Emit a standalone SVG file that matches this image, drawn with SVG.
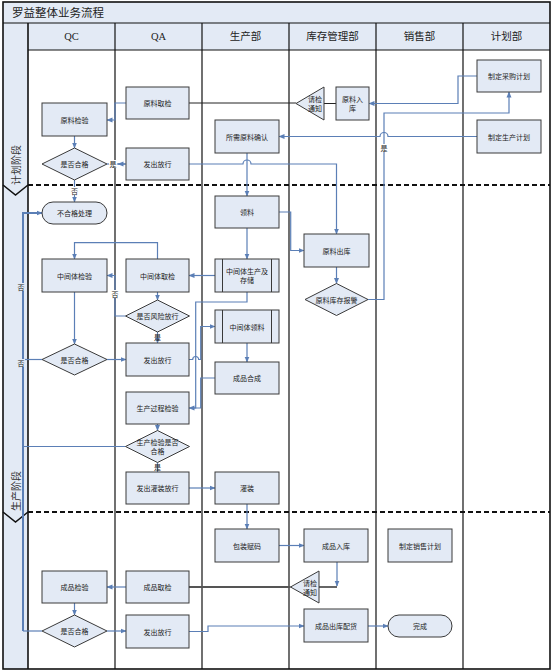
<svg xmlns="http://www.w3.org/2000/svg" width="554" height="672" viewBox="0 0 554 672">
<style>
.bg{fill:#ffffff}
.hdr{fill:#e3eaf5;stroke:none}
.lane{stroke:#111;stroke-width:1.2;fill:none}
.dash{stroke:#111;stroke-width:2;stroke-dasharray:5 3;fill:none}
.box{fill:#e3eaf5;stroke:#3a3a3a;stroke-width:1}
.inner{stroke:#3a3a3a;stroke-width:1;fill:none}
.c{stroke:#5b7fb6;stroke-width:1.2;fill:none}
.ct{stroke:#5b7fb6;stroke-width:2;fill:none}
.k{stroke:#222;stroke-width:1;fill:none}
.kg{stroke:#555;stroke-width:1.8;fill:none}
.lbl{font-family:"Noto Sans CJK SC","Liberation Sans",sans-serif;font-size:7px;fill:#222;text-anchor:middle;dominant-baseline:central}
.ht{font-family:"Liberation Serif","Noto Sans CJK SC",serif;font-size:10.5px;fill:#222;text-anchor:middle;dominant-baseline:central}
.tt{font-family:"Noto Sans CJK SC",sans-serif;font-size:11.5px;fill:#222}
.pt{font-family:"Noto Sans CJK SC",sans-serif;font-size:10px;fill:#333;text-anchor:middle;dominant-baseline:central}
.lb{fill:#ffffff;stroke:none}
</style>
<defs>
<marker id="ar" markerWidth="6" markerHeight="6" refX="5.5" refY="3" orient="auto" markerUnits="userSpaceOnUse">
<path d="M0,0.5 L6,3 L0,5.5 z" fill="#5b7fb6"/>
</marker>
</defs>
<rect class="bg" x="0" y="0" width="554" height="672"/>
<g id="frame">
<rect class="hdr" x="3" y="2" width="547" height="21"/>
<text class="tt" x="12" y="17">罗益整体业务流程</text>
<rect class="hdr" x="3" y="23" width="547" height="27"/>
<rect class="hdr" x="3" y="23" width="25" height="646"/>
<line class="lane" x1="3" y1="23" x2="550" y2="23"/>
<line class="lane" x1="28" y1="50" x2="550" y2="50"/>
<line class="lane" x1="28" y1="23" x2="28" y2="669" style="stroke-width:1.6"/>
<line class="lane" x1="115" y1="23" x2="115" y2="669"/>
<line class="lane" x1="202" y1="23" x2="202" y2="669"/>
<line class="lane" x1="289" y1="23" x2="289" y2="669"/>
<line class="lane" x1="376" y1="23" x2="376" y2="669"/>
<line class="lane" x1="463" y1="23" x2="463" y2="669"/>
<line class="dash" x1="28" y1="185" x2="550" y2="185"/>
<line class="dash" x1="28" y1="512" x2="550" y2="512"/>
<polyline points="3,185 15.5,195 28,185" fill="none" stroke="#111" stroke-width="1.6"/>
<polyline points="3,512 15.5,522 28,512" fill="none" stroke="#111" stroke-width="1.6"/>
<text class="pt" transform="translate(15.5,165) rotate(-90)">计划阶段</text>
<text class="pt" transform="translate(15.5,491) rotate(-90)">生产阶段</text>
<text class="ht" x="71.5" y="36.5">QC</text>
<text class="ht" x="158.5" y="36.5">QA</text>
<text class="ht" x="245.5" y="36.5">生产部</text>
<text class="ht" x="332.5" y="36.5">库存管理部</text>
<text class="ht" x="419.5" y="36.5">销售部</text>
<text class="ht" x="506.5" y="36.5">计划部</text>
<rect x="3" y="2" width="547" height="667" fill="none" stroke="#111" stroke-width="1.6"/>
</g>
<g id="connectors">
<path class="k" d="M189,103 H296"/>
<path class="k" d="M324,103.5 H336"/>
<path class="c" d="M126,103 H115 V120 H107" marker-end="url(#ar)"/>
<path class="c" d="M74.5,136 V148" marker-end="url(#ar)"/>
<path class="c" d="M107,164 H126"/>
<path class="c" d="M125,164 H118" marker-end="url(#ar)"/>
<path class="c" d="M189,164 H243 a4,4 0 0 1 8,0 H336.5 V234" marker-end="url(#ar)"/>
<path class="c" d="M247,153 V196" marker-end="url(#ar)"/>
<path class="c" d="M477,136.5 H388 a4,4 0 0 0 -8,0 H279" marker-end="url(#ar)"/>
<path class="c" d="M477,76 H458 V103.5 H369" marker-end="url(#ar)"/>
<path class="c" d="M368,299.5 H384 V113 H509 V92" marker-end="url(#ar)"/>
<path class="c" d="M74.5,180 V202" marker-end="url(#ar)"/>
<path class="c" d="M279,212 H290.7 V250.5 H304" marker-end="url(#ar)"/>
<path class="c" d="M336.5,267 V283.5" marker-end="url(#ar)"/>
<path class="c" d="M247,228 V259" marker-end="url(#ar)"/>
<path class="c" d="M215,275.5 H189" marker-end="url(#ar)"/>
<path class="c" d="M157.5,259 V242.7 H74.5 V259" marker-end="url(#ar)"/>
<path class="c" d="M157.5,292 V300" marker-end="url(#ar)"/>
<path class="c" d="M125.5,316 H115 V275.5 H107" marker-end="url(#ar)"/>
<path class="c" d="M157.5,332 V343" marker-end="url(#ar)"/>
<path class="c" d="M74.5,292 V344" marker-end="url(#ar)"/>
<path class="c" d="M107,359.5 H126" marker-end="url(#ar)"/>
<path class="ct" d="M23,631 V213 H42" marker-end="url(#ar)"/>
<path class="c" d="M42,359.5 H23"/>
<path class="c" d="M125.5,446.5 H23"/>
<path class="c" d="M42,631 H23"/>
<path class="c" d="M247,292 V302 H195.7 V408 H189" marker-end="url(#ar)"/>
<path class="c" d="M189,359.5 H192.7 a3,3 0 0 1 6,0 H200.7 V326.5 H215" marker-end="url(#ar)"/>
<path class="c" d="M215,378 H200.7 V408 H192"/>
<path class="c" d="M247,343 V362" marker-end="url(#ar)"/>
<path class="c" d="M157.5,424 V430.5" marker-end="url(#ar)"/>
<path class="c" d="M157.5,462.5 V472"/>
<path class="c" d="M189,488 H215" marker-end="url(#ar)"/>
<path class="c" d="M247,504 V529" marker-end="url(#ar)"/>
<path class="c" d="M279,545.5 H304" marker-end="url(#ar)"/>
<path class="c" d="M337,562 V586" marker-end="url(#ar)"/>
<path class="kg" d="M189,587 H290.5"/>
<path class="kg" d="M319,587 H337"/>
<path class="c" d="M126,587 H107" marker-end="url(#ar)"/>
<path class="c" d="M74.5,603 V615" marker-end="url(#ar)"/>
<path class="c" d="M107,631 H126" marker-end="url(#ar)"/>
<path class="c" d="M189,631.5 H208 V626 H304" marker-end="url(#ar)"/>
<path class="c" d="M368,626 H388" marker-end="url(#ar)"/>
<rect class="lb" x="109" y="160" width="8" height="8"/>
<text class="lbl" x="113" y="164">是</text>
<rect class="lb" x="70.5" y="187" width="8" height="8"/>
<text class="lbl" x="74.5" y="191">否</text>
<rect class="lb" x="380" y="144" width="8" height="8"/>
<text class="lbl" x="384" y="148">是</text>
<rect class="lb" x="111" y="290" width="8" height="8"/>
<text class="lbl" x="115" y="294">否</text>
<text class="lbl" x="157.5" y="337">是</text>
<text class="lbl" x="157.5" y="467">是</text>
<rect class="lb" x="17" y="283" width="8" height="8" fill="#e3eaf5" style="fill:#e3eaf5"/>
<text class="lbl" x="21" y="287">否</text>
<rect class="lb" x="17" y="359" width="8" height="8" style="fill:#e3eaf5"/>
<text class="lbl" x="21" y="363">否</text>
</g>
<g id="n1"><rect class="box" x="126" y="87" width="63" height="32"/><text class="lbl" x="157.5" y="103">原料取检</text></g>
<g id="n2"><rect class="box" x="42" y="103" width="65" height="33"/><text class="lbl" x="74.5" y="119.5">原料检验</text></g>
<g id="n3"><polygon class="box" points="42,164 74.5,148 107,164 74.5,180"/><text class="lbl" x="74.5" y="164">是否合格</text></g>
<g id="n4"><rect class="box" x="126" y="148" width="63" height="32"/><text class="lbl" x="157.5" y="164">发出放行</text></g>
<g id="n5"><rect class="box" x="215" y="120" width="64" height="33"/><text class="lbl" x="247" y="136.5">所需原料确认</text></g>
<g id="n6"><rect class="box" x="42" y="202" width="65" height="22" rx="11" ry="11"/><text class="lbl" x="74.5" y="213">不合格处理</text></g>
<g id="n7"><rect class="box" x="215" y="196" width="64" height="32"/><text class="lbl" x="247" y="212">领料</text></g>
<g id="n8"><polygon class="box" points="296,103.5 324,87 324,120"/><text class="lbl" x="315" y="99">请检</text><text class="lbl" x="315" y="107.5">通知</text></g>
<g id="n9"><rect class="box" x="336" y="87" width="33" height="33"/><text class="lbl" x="352.5" y="99">原料入</text><text class="lbl" x="352.5" y="108">库</text></g>
<g id="n10"><rect class="box" x="477" y="60" width="64" height="32"/><text class="lbl" x="509" y="76">制定采购计划</text></g>
<g id="n11"><rect class="box" x="477" y="120" width="64" height="33"/><text class="lbl" x="509" y="136.5">制定生产计划</text></g>
<g id="n12"><rect class="box" x="304" y="234" width="65" height="33"/><text class="lbl" x="336.5" y="250.5">原料出库</text></g>
<g id="n13"><polygon class="box" points="305,299.5 336.5,283.5 368,299.5 336.5,315.5"/><text class="lbl" x="336.5" y="299.5">原料库存报警</text></g>
<g id="n14"><rect class="box" x="42" y="259" width="65" height="33"/><text class="lbl" x="74.5" y="275.5">中间体检验</text></g>
<g id="n15"><rect class="box" x="126" y="259" width="63" height="33"/><text class="lbl" x="157.5" y="275.5">中间体取检</text></g>
<g id="n16"><rect class="box" x="215" y="259" width="64" height="33"/><line class="inner" x1="222.5" y1="259" x2="222.5" y2="292"/><line class="inner" x1="271.5" y1="259" x2="271.5" y2="292"/><text class="lbl" x="247" y="271">中间体生产及</text><text class="lbl" x="247" y="280">存储</text></g>
<g id="n17"><polygon class="box" points="125.5,316 157.5,300 189.5,316 157.5,332"/><text class="lbl" x="157.5" y="316">是否风险放行</text></g>
<g id="n18"><polygon class="box" points="42,359.5 74.5,344 107,359.5 74.5,375"/><text class="lbl" x="74.5" y="359.5">是否合格</text></g>
<g id="n19"><rect class="box" x="126" y="343" width="63" height="33"/><text class="lbl" x="157.5" y="359.5">发出放行</text></g>
<g id="n20"><rect class="box" x="215" y="310" width="64" height="33"/><line class="inner" x1="222.5" y1="310" x2="222.5" y2="343"/><line class="inner" x1="271.5" y1="310" x2="271.5" y2="343"/><text class="lbl" x="247" y="326.5">中间体领料</text></g>
<g id="n21"><rect class="box" x="215" y="362" width="64" height="32"/><text class="lbl" x="247" y="378">成品合成</text></g>
<g id="n22"><rect class="box" x="126" y="392" width="63" height="32"/><text class="lbl" x="157.5" y="408">生产过程检验</text></g>
<g id="n23"><polygon class="box" points="125.5,446.5 157.5,430.5 189.5,446.5 157.5,462.5"/><text class="lbl" x="157.5" y="442">生产检验是否</text><text class="lbl" x="157.5" y="450.5">合格</text></g>
<g id="n24"><rect class="box" x="126" y="472" width="63" height="32"/><text class="lbl" x="157.5" y="488">发出灌装放行</text></g>
<g id="n25"><rect class="box" x="215" y="472" width="64" height="32"/><text class="lbl" x="247" y="488">灌装</text></g>
<g id="n26"><rect class="box" x="215" y="529" width="64" height="33"/><text class="lbl" x="247" y="545.5">包装赋码</text></g>
<g id="n27"><rect class="box" x="304" y="529" width="64" height="33"/><text class="lbl" x="336" y="545.5">成品入库</text></g>
<g id="n28"><rect class="box" x="388" y="529" width="64" height="33"/><text class="lbl" x="420" y="545.5">制定销售计划</text></g>
<g id="n29"><rect class="box" x="42" y="571" width="65" height="32"/><text class="lbl" x="74.5" y="587">成品检验</text></g>
<g id="n30"><rect class="box" x="126" y="571" width="63" height="32"/><text class="lbl" x="157.5" y="587">成品取检</text></g>
<g id="n31"><polygon class="box" points="290.5,587 319,571 319,603"/><text class="lbl" x="310" y="583">请检</text><text class="lbl" x="310" y="592">通知</text></g>
<g id="n32"><polygon class="box" points="42,631 74.5,615 107,631 74.5,647"/><text class="lbl" x="74.5" y="631">是否合格</text></g>
<g id="n33"><rect class="box" x="126" y="615" width="63" height="33"/><text class="lbl" x="157.5" y="631.5">发出放行</text></g>
<g id="n34"><rect class="box" x="304" y="609" width="64" height="33"/><text class="lbl" x="336" y="625.5">成品出库配货</text></g>
<g id="n35"><rect class="box" x="388" y="615" width="64" height="22" rx="11" ry="11"/><text class="lbl" x="420" y="626">完成</text></g>
</svg>
